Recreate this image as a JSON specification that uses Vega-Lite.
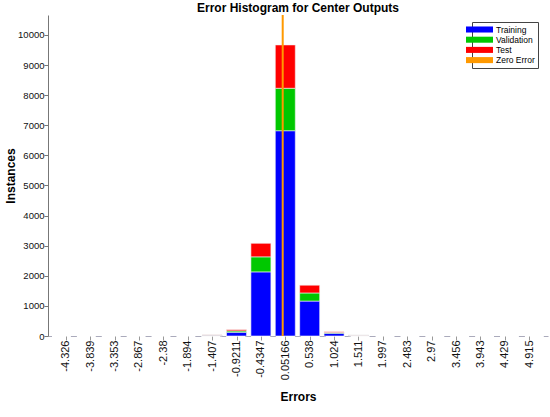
{
  "$schema": "https://vega.github.io/schema/vega-lite/v6.json",
  "autosize": "none",
  "width": 500,
  "height": 321,
  "padding": {"left": 48, "top": 15, "right": 2, "bottom": 81},
  "background": "white",
  "config": {
    "font": "Liberation Sans",
    "view": {"stroke": null},
    "axis": {"grid": false, "labelFont": "Liberation Sans", "titleFont": "Liberation Sans", "labelColor": "#111", "titleColor": "#000"},
    "axisX": {"labelOverlap": false}
  },
  "title": {"text": "Error Histogram for Center Outputs", "fontSize": 12, "fontWeight": "bold", "font": "Liberation Sans", "anchor": "middle", "baseline": "alphabetic", "offset": 1, "dy": 11, "color": "#000"},
  "datasets": {
    "bins": [
      {"c": -1.407, "s": "Training", "k": 1, "n": 25},
      {"c": -1.407, "s": "Validation", "k": 2, "n": 5},
      {"c": -1.407, "s": "Test", "k": 3, "n": 5},
      {"c": -0.9211, "s": "Training", "k": 1, "n": 125},
      {"c": -0.9211, "s": "Validation", "k": 2, "n": 45},
      {"c": -0.9211, "s": "Test", "k": 3, "n": 40},
      {"c": -0.4347, "s": "Training", "k": 1, "n": 2130},
      {"c": -0.4347, "s": "Validation", "k": 2, "n": 500},
      {"c": -0.4347, "s": "Test", "k": 3, "n": 450},
      {"c": 0.05166, "s": "Training", "k": 1, "n": 6820},
      {"c": 0.05166, "s": "Validation", "k": 2, "n": 1410},
      {"c": 0.05166, "s": "Test", "k": 3, "n": 1440},
      {"c": 0.538, "s": "Training", "k": 1, "n": 1160},
      {"c": 0.538, "s": "Validation", "k": 2, "n": 270},
      {"c": 0.538, "s": "Test", "k": 3, "n": 260},
      {"c": 1.024, "s": "Training", "k": 1, "n": 90},
      {"c": 1.024, "s": "Validation", "k": 2, "n": 25},
      {"c": 1.024, "s": "Test", "k": 3, "n": 25},
      {"c": 1.511, "s": "Training", "k": 1, "n": 20},
      {"c": 1.511, "s": "Validation", "k": 2, "n": 5},
      {"c": 1.511, "s": "Test", "k": 3, "n": 3}
    ],
    "zero": [{"e": 0, "s": "Zero Error"}]
  },
  "layer": [
    {
      "data": {"name": "bins"},
      "mark": {"type": "bar", "width": 20, "stroke": "#f4f4f4", "strokeWidth": 0.6},
      "encoding": {
        "x": {
          "field": "c", "type": "quantitative",
          "scale": {"domain": [-4.58, 5.19], "nice": false, "zero": false},
          "axis": {
            "title": "Errors", "titleFontSize": 12, "titleFontWeight": "bold", "titleY": 55,
            "values": [-4.326, -3.839, -3.353, -2.867, -2.38, -1.894, -1.407, -0.9211, -0.4347, 0.05166, 0.538, 1.024, 1.511, 1.997, 2.483, 2.97, 3.456, 3.943, 4.429, 4.915],
            "tickCount": 40,
            "labelExpr": "datum.value + ''",
            "labelAngle": -90, "labelAlign": "right", "labelBaseline": "middle", "labelFontSize": 11, "labelPadding": 0,
            "labelOverlap": false, "labelFlush": false, "labelBound": false,
            "tickSize": 4, "tickColor": "#999", "tickWidth": 1,
            "domainColor": "#aab", "domainDash": [6, 18.89], "domainDashOffset": 2.49,
            "encode": {"ticks": {"update": {"y2": {"value": -4}}}}
          }
        },
        "y": {
          "field": "n", "type": "quantitative", "stack": "zero",
          "scale": {"domain": [0, 10664], "nice": false},
          "axis": {
            "title": "Instances", "titleFontSize": 12, "titleFontWeight": "bold", "titlePadding": 0,
            "values": [0, 1000, 2000, 3000, 4000, 5000, 6000, 7000, 8000, 9000, 10000],
            "tickCount": 20,
            "format": "d", "labelFontSize": 9.5, "labelPadding": 0,
            "tickSize": 4, "tickColor": "#777", "domainColor": "#777",
            "encode": {"ticks": {"update": {"x2": {"value": 4}}}}
          }
        },
        "order": {"field": "k", "type": "ordinal"},
        "color": {
          "field": "s", "type": "nominal",
          "scale": {"domain": ["Training", "Validation", "Test", "Zero Error"], "range": ["#0000FF", "#00C800", "#FF0000", "#FF9900"]},
          "legend": {
            "title": null, "orient": "none", "legendX": 424, "legendY": 7,
            "strokeColor": "#444", "fillColor": "white", "padding": 3,
            "symbolType": "M-3,-0.67H3V0.67H-3Z", "symbolSize": 81, "symbolStrokeWidth": 0,
            "labelFontSize": 8.5, "labelOffset": 12, "rowPadding": 1.2, "labelColor": "#000",
            "encode": {
              "symbols": {
                "update": {
                  "shape": {"signal": "datum.value === 'Zero Error' ? 'M-3,0H3' : 'M-3,-0.67H3V0.67H-3Z'"},
                  "fill": {"signal": "datum.value === 'Zero Error' ? 'transparent' : scale('color', datum.value)"},
                  "stroke": {"signal": "datum.value === 'Zero Error' ? '#FF9900' : 'transparent'"},
                  "strokeWidth": {"value": 1.5},
                  "opacity": {"value": 1}
                }
              }
            }
          }
        }
      }
    },
    {
      "data": {"name": "zero"},
      "mark": {"type": "rule", "strokeWidth": 2},
      "encoding": {
        "x": {"field": "e", "type": "quantitative"},
        "color": {"field": "s", "type": "nominal"}
      }
    }
  ]
}
